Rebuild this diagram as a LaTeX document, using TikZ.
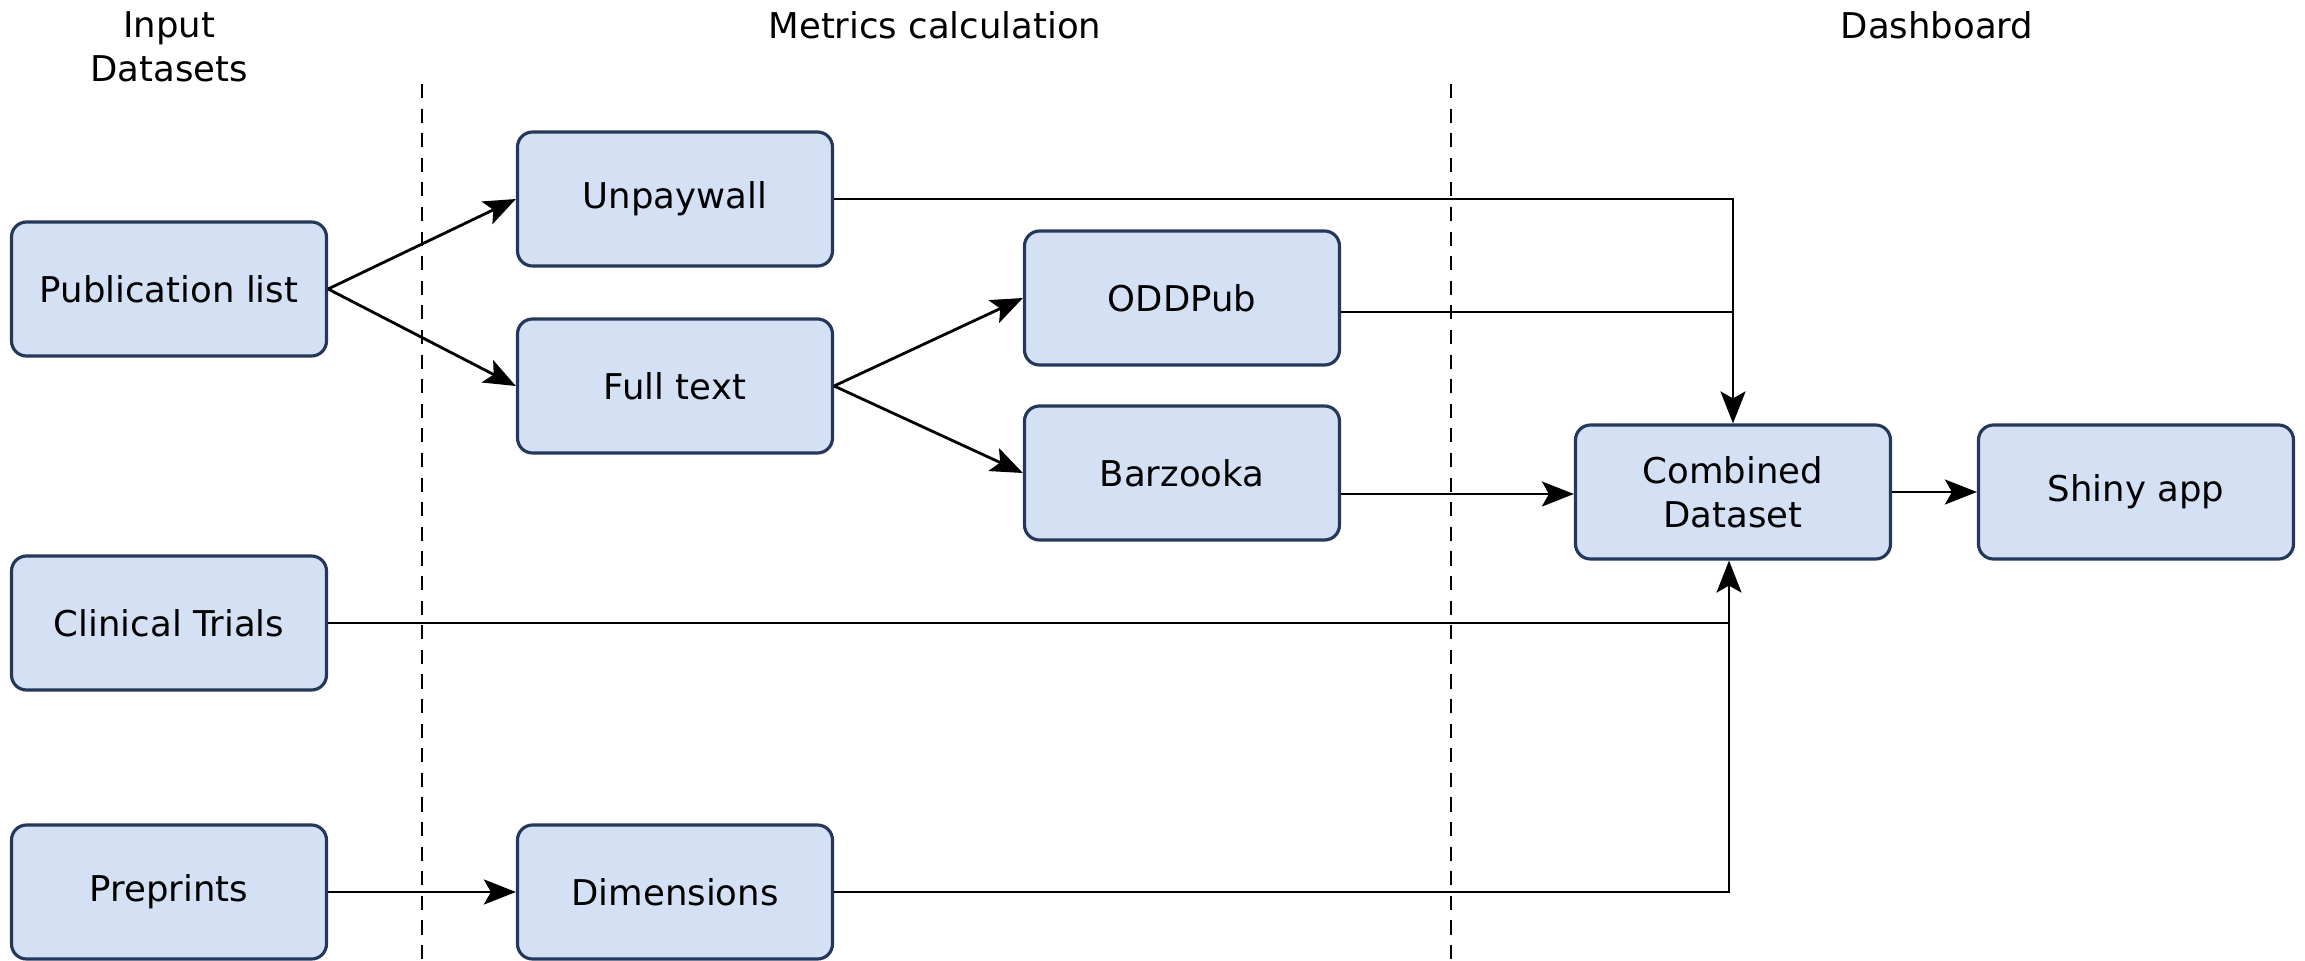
\documentclass[tikz,border=0pt]{standalone}
\usepackage{fontspec}
\setmainfont{DejaVu Sans}
\usepackage{xcolor}
\usetikzlibrary{arrows.meta, positioning, calc}
\definecolor{boxfill}{HTML}{D4E1F5}
\definecolor{boxline}{HTML}{24385A}

\begin{document}
\begin{tikzpicture}[
        block/.style={draw=boxline, fill=boxfill, line width=0.9pt, rounded corners=0.15cm,
            minimum width=3.15cm, minimum height=1.34cm, align=center,
            font=\fontsize{10.1}{12.4}\selectfont},
        header/.style={align=center, font=\fontsize{10.1}{12.4}\selectfont},
        arrow/.style={-{Stealth[length=0.32cm, width=0.25cm, inset=0.07cm]}, line width=0.8pt},
        plain/.style={line width=0.8pt},
        divider/.style={dashed, line width=0.7pt, dash pattern=on 4pt off 3pt}
    ]
        \useasboundingbox (0,0) rectangle (23.05,9.6);

        % Column headers
        \node[header] (hinput) at (1.69, 9.13) {Input\\Datasets};
        \node[header] (hmetrics) at (9.35, 9.35) {Metrics calculation};
        \node[header] (hdash) at (19.37, 9.35) {Dashboard};

        % Dividers
        \coordinate (divAtop) at (4.22, 8.76);
        \coordinate (divAbot) at (4.22, 0);
        \coordinate (divBtop) at (14.51, 8.76);
        \coordinate (divBbot) at (14.51, 0);
        \draw[divider] (divAtop) -- (divAbot);
        \draw[divider] (divBtop) -- (divBbot);

        % Input datasets
        \node[block] (pub) at (1.69, 6.71) {Publication list};
        \node[block] (clin) at (1.69, 3.37) {Clinical Trials};
        \node[block] (prep) at (1.69, 0.68) {Preprints};

        % Metrics
        \node[block] (unp) at (6.75, 7.61) {Unpaywall};
        \node[block] (full) at (6.75, 5.74) {Full text};
        \node[block] (dim) at (6.75, 0.68) {Dimensions};
        \node[block] (odd) at (11.82, 6.62) {ODDPub};
        \node[block] (bar) at (11.82, 4.87) {Barzooka};

        % Dashboard
        \node[block] (comb) at (17.33, 4.68) {Combined\\Dataset};
        \node[block] (shiny) at (21.36, 4.68) {Shiny app};
        \coordinate (combin) at ([xshift=-0.04cm]comb.south);

        % Arrows
        \draw[arrow] (pub.east) -- (unp.west);
        \draw[arrow] (pub.east) -- (full.west);
        \draw[arrow] (full.east) -- (odd.west);
        \draw[arrow] (full.east) -- (bar.west);
        \draw[arrow] (unp.east) -| (comb.north);
        \draw[plain] ([yshift=-0.14cm]odd.east) -- ([yshift=-0.14cm]odd.east -| comb.north);
        \draw[arrow] ([yshift=-0.02cm]bar.east |- comb.west) -- ([yshift=-0.02cm]comb.west);
        \draw[plain] (clin.east) -- (clin.east -| combin);
        \draw[arrow] (dim.east) -| (combin);
        \draw[arrow] (prep.east) -- (dim.west);
        \draw[arrow] (comb.east) -- (shiny.west);
    \end{tikzpicture}
\end{document}
